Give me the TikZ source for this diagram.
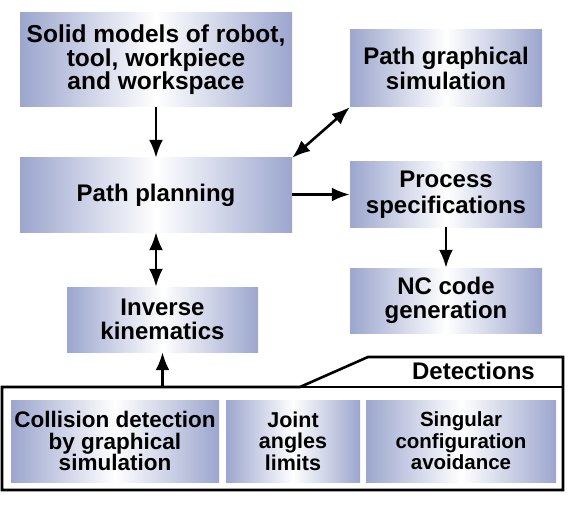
\documentclass[tikz,border=0pt]{standalone}
\usepackage{fontspec}
\setmainfont{Liberation Sans}
\usetikzlibrary{arrows.meta}

\definecolor{boxblue}{RGB}{156,166,206}

\tikzset{
  box/.style={left color=boxblue, right color=boxblue, middle color=white,
    draw=none, inner sep=0pt, align=center,
    font=\bfseries\fontsize{24}{24.5}\selectfont},
  lowbox/.style={box, minimum height=82pt},
  arr/.style={line width=2.6pt, -{Latex[length=18pt,width=14pt]}},
  darr/.style={line width=2.6pt, {Latex[length=18pt,width=14pt]}-{Latex[length=18pt,width=14pt]}}
}

\begin{document}
\begin{tikzpicture}[x=1pt,y=-1pt]
\useasboundingbox (0,0) rectangle (570,505);
% Boxes
\node [box, minimum width=272pt, minimum height=94pt, font=\bfseries\fontsize{24.5}{23.5}\selectfont] (solid) at (156,60) {Solid models of robot,\\tool, workpiece\\and workspace};
\node [box, minimum width=192pt, minimum height=77pt] (graph) at (446,68.5) {Path graphical\\simulation};
\node [box, minimum width=272pt, minimum height=74pt] (plan) at (156,195) {Path planning};
\node [box, minimum width=192pt, minimum height=65pt, font=\bfseries\fontsize{24}{25.5}\selectfont] (proc) at (446,194.5) {Process\\specifications};
\node [box, minimum width=192pt, minimum height=65pt] (nc) at (446,300.5) {NC code\\generation};
\node [box, minimum width=191pt, minimum height=65pt] (inv) at (162.5,319.5) {Inverse\\kinematics};
% Detections
\draw [line width=2.6pt, line join=miter] (2,387) -- (300,387) -- (368,357) -- (563,357) -- (563,490) -- (2,490) -- cycle;
\draw [line width=2.6pt] (300,387) -- (563,387);
\node [font=\bfseries\fontsize{24}{24}\selectfont, anchor=east, inner sep=0pt] (det) at (535,371) {Detections};
\coordinate (dettop) at (162.5,387);
\node [lowbox, minimum width=208pt, font=\bfseries\fontsize{22.5}{21.5}\selectfont] (coll) at (115,441) {Collision detection\\by graphical\\simulation};
\node [lowbox, minimum width=134pt, font=\bfseries\fontsize{21.5}{21.5}\selectfont] (joint) at (293,441) {Joint\\angles\\limits};
\node [lowbox, minimum width=190pt, font=\bfseries\fontsize{20.5}{21.5}\selectfont] (sing) at (461,441) {Singular\\configuration\\avoidance};
% Arrows
\draw [arr] (solid) -- (plan);
\draw [darr] (plan.north east) -- (graph.south west);
\draw [arr] (plan.east |- proc) -- (proc);
\draw [arr] (proc) -- (nc);
\draw [darr] (plan) -- (plan.south |- inv.north);
\draw [arr] (dettop) -- (inv);
\end{tikzpicture}
\end{document}
